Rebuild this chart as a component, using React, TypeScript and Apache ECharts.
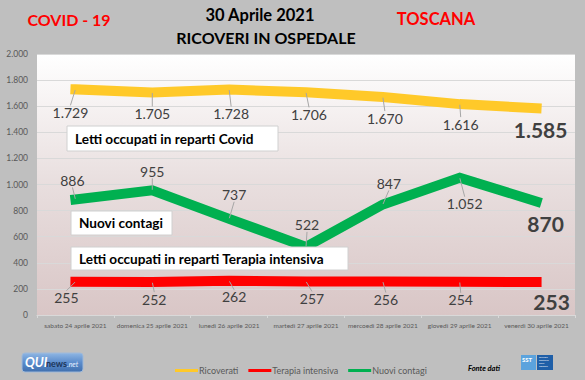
import React, { useEffect, useRef } from 'react';
import * as echarts from 'echarts';

const categories = [
  'sabato 24 aprile 2021',
  'domenica 25 aprile 2021',
  'lunedì 26 aprile 2021',
  'martedì 27 aprile 2021',
  'mercoedì 28 aprile 2021',
  'giovedì 29 aprile 2021',
  'venerdì 30 aprile 2021',
];
const ricoverati = [1729, 1705, 1728, 1706, 1670, 1616, 1585];
const terapiaIntensiva = [255, 252, 262, 257, 256, 254, 253];
const nuoviContagi = [886, 955, 737, 522, 847, 1052, 870];
const yMin = 0;
const yMax = 2000;
const yStep = 200;

// label offsets relative to each point (layout only)
const offRicoverati = [[-5, 23], [0, 21], [2, 24], [3, 22], [2, 21], [1, 20], [4, 21]];
const offTerapia = [[-9, 16], [2, 17], [5, 16], [6, 17], [3, 18], [1, 18], [15, 20]];
const offContagi = [[-3, -19], [0, -19], [5, -24], [1, -22], [6, -21], [5, 26], [9, 22]];

const FONT = 'Lato, "Open Sans", sans-serif';
const fmt = (v: number) => String(v).replace(/\B(?=(\d{3})+(?!\d))/g, '.');

function lineSeries(name: string, values: number[], color: string, offsets: number[][], z: number) {
  const last = values.length - 1;
  return {
    type: 'line',
    name,
    z,
    data: values.map((v, i) =>
      i === last
        ? { value: v, label: { fontSize: 21, fontWeight: 'bold' }, labelLine: { show: false } }
        : v
    ),
    symbol: 'circle',
    symbolSize: 1,
    showSymbol: true,
    showAllSymbol: true,
    itemStyle: { color },
    lineStyle: { color, width: 10, cap: 'square', join: 'miter' },
    label: {
      show: true,
      position: 'inside',
      formatter: (p: any) => fmt(p.value),
      fontSize: 14,
      color: '#404040',
      fontFamily: FONT,
    },
    labelLayout: (params: any) => ({
      dx: offsets[params.dataIndex][0],
      dy: offsets[params.dataIndex][1],
    }),
    labelLine: { show: true, lineStyle: { color: '#a6a6a6', width: 1 } },
    emphasis: { disabled: true },
    silent: true,
  };
}

function textBox(x: number, y: number, w: number, h: number, text: string) {
  return {
    type: 'group',
    z: 100,
    children: [
      {
        type: 'rect',
        shape: { x, y, width: w, height: h },
        style: { fill: '#ffffff', stroke: '#d0d0d0', lineWidth: 1 },
        z: 100,
      },
      {
        type: 'text',
        x: x + 8,
        y: y + h / 2,
        style: {
          text,
          fill: '#000000',
          font: `bold 13.6px ${FONT}`,
          textVerticalAlign: 'middle',
        },
        z: 101,
      },
    ],
  };
}

export default function App() {
  const ref = useRef<HTMLDivElement>(null);
  useEffect(() => {
    document.body.style.margin = '0';
    const chart = echarts.init(ref.current!, undefined, { renderer: 'svg' });
    chart.setOption({
      animation: false,
      backgroundColor: '#bfbfbf',
      textStyle: { fontFamily: FONT },
      grid: {
        left: 37,
        right: 10,
        top: 54,
        bottom: 65,
        show: true,
        borderWidth: 0,
        backgroundColor: new echarts.graphic.LinearGradient(0, 0, 0, 1, [
          { offset: 0, color: '#ffffff' },
          { offset: 0.5, color: '#e8dede' },
          { offset: 1, color: '#d9c6c6' },
        ]),
      },
      xAxis: {
        type: 'category',
        data: categories,
        boundaryGap: true,
        axisLine: { lineStyle: { color: '#d9d9d9' } },
        axisTick: { show: true, length: 3, lineStyle: { color: '#d9d9d9' } },
        axisLabel: { fontSize: 6.5, color: '#595959', margin: 7, interval: 0, fontFamily: FONT },
        splitLine: { show: false },
      },
      yAxis: {
        type: 'value',
        min: yMin,
        max: yMax,
        interval: yStep,
        axisLine: { show: false },
        axisTick: { show: false },
        axisLabel: { fontSize: 8.5, color: '#595959', margin: 9, formatter: (v: number) => fmt(v), fontFamily: FONT },
        splitLine: { lineStyle: { color: '#d9d9d9', width: 1 } },
      },
      legend: {
        left: 170,
        top: 361,
        itemWidth: 23,
        itemHeight: 3,
        itemGap: 10,
        icon: 'rect',
        textStyle: { fontSize: 9, color: '#595959', padding: [0, 0, 0, -4], fontFamily: FONT },
        data: ['Ricoverati', 'Terapia intensiva', 'Nuovi contagi'],
      },
      series: [
        lineSeries('Ricoverati', ricoverati, '#ffc929', offRicoverati, 2),
        lineSeries('Terapia intensiva', terapiaIntensiva, '#ff0000', offTerapia, 3),
        lineSeries('Nuovi contagi', nuoviContagi, '#00b050', offContagi, 4),
      ],
      graphic: [
        { type: 'text', x: 69, y: 19, style: { text: 'COVID - 19', fill: '#ff0000', font: `bold 16px ${FONT}`, textAlign: 'center', textVerticalAlign: 'middle' } },
        { type: 'text', x: 436, y: 19, style: { text: 'TOSCANA', fill: '#ff0000', font: `bold 16.5px ${FONT}`, textAlign: 'center', textVerticalAlign: 'middle' } },
        { type: 'text', x: 260, y: 15, style: { text: '30 Aprile 2021', fill: '#000000', font: `bold 16.5px ${FONT}`, textAlign: 'center', textVerticalAlign: 'middle' } },
        { type: 'text', x: 266, y: 37, style: { text: 'RICOVERI IN OSPEDALE', fill: '#000000', font: `bold 16px ${FONT}`, textAlign: 'center', textVerticalAlign: 'middle' } },
        textBox(67, 126, 211, 25, 'Letti occupati in reparti Covid'),
        textBox(71, 211, 101, 24, 'Nuovi contagi'),
        textBox(71, 247, 277, 23, 'Letti occupati in reparti Terapia intensiva'),
        { type: 'text', x: 468, y: 368, style: { text: 'Fonte dati', fill: '#000000', font: `italic bold 7.5px ${FONT}`, textVerticalAlign: 'middle' } },
        {
          type: 'group',
          children: [
            {
              type: 'rect',
              shape: { x: 22, y: 353, width: 61, height: 19, r: 3 },
              style: {
                fill: new echarts.graphic.LinearGradient(0, 0, 0, 1, [
                  { offset: 0, color: '#8fb6e3' },
                  { offset: 0.5, color: '#5b8ccc' },
                  { offset: 1, color: '#3f6fae' },
                ]),
                stroke: '#9fb9d9',
                lineWidth: 1,
              },
            },
            { type: 'text', x: 25, y: 362, style: { text: 'QUI', fill: '#ffffff', font: `italic bold 13px ${FONT}`, textVerticalAlign: 'middle' } },
            { type: 'text', x: 46, y: 363, style: { text: 'news', fill: '#1d3557', font: `bold 9px ${FONT}`, textVerticalAlign: 'middle' } },
            { type: 'text', x: 67, y: 364, style: { text: '.net', fill: '#e8f0ff', font: `italic 7px ${FONT}`, textVerticalAlign: 'middle' } },
          ],
        },
        {
          type: 'group',
          children: [
            { type: 'rect', shape: { x: 521, y: 355, width: 15, height: 15 }, style: { fill: '#5ba3dd' } },
            { type: 'rect', shape: { x: 537, y: 355, width: 16, height: 15 }, style: { fill: '#1f5fa8' } },
            { type: 'text', x: 522, y: 359, style: { text: 'SST', fill: '#ffffff', font: `bold 6px ${FONT}`, textVerticalAlign: 'middle' } },
            { type: 'text', x: 539, y: 362, style: { text: 'Servizio\nSanitario\ndella\nToscana', fill: '#ffffff', font: `2.5px ${FONT}`, textVerticalAlign: 'middle', lineHeight: 3 } },
          ],
        },
      ],
    });
    return () => chart.dispose();
  }, []);
  return <div ref={ref} style={{ width: 585, height: 380, position: 'absolute', left: 0, top: 0 }} />;
}
